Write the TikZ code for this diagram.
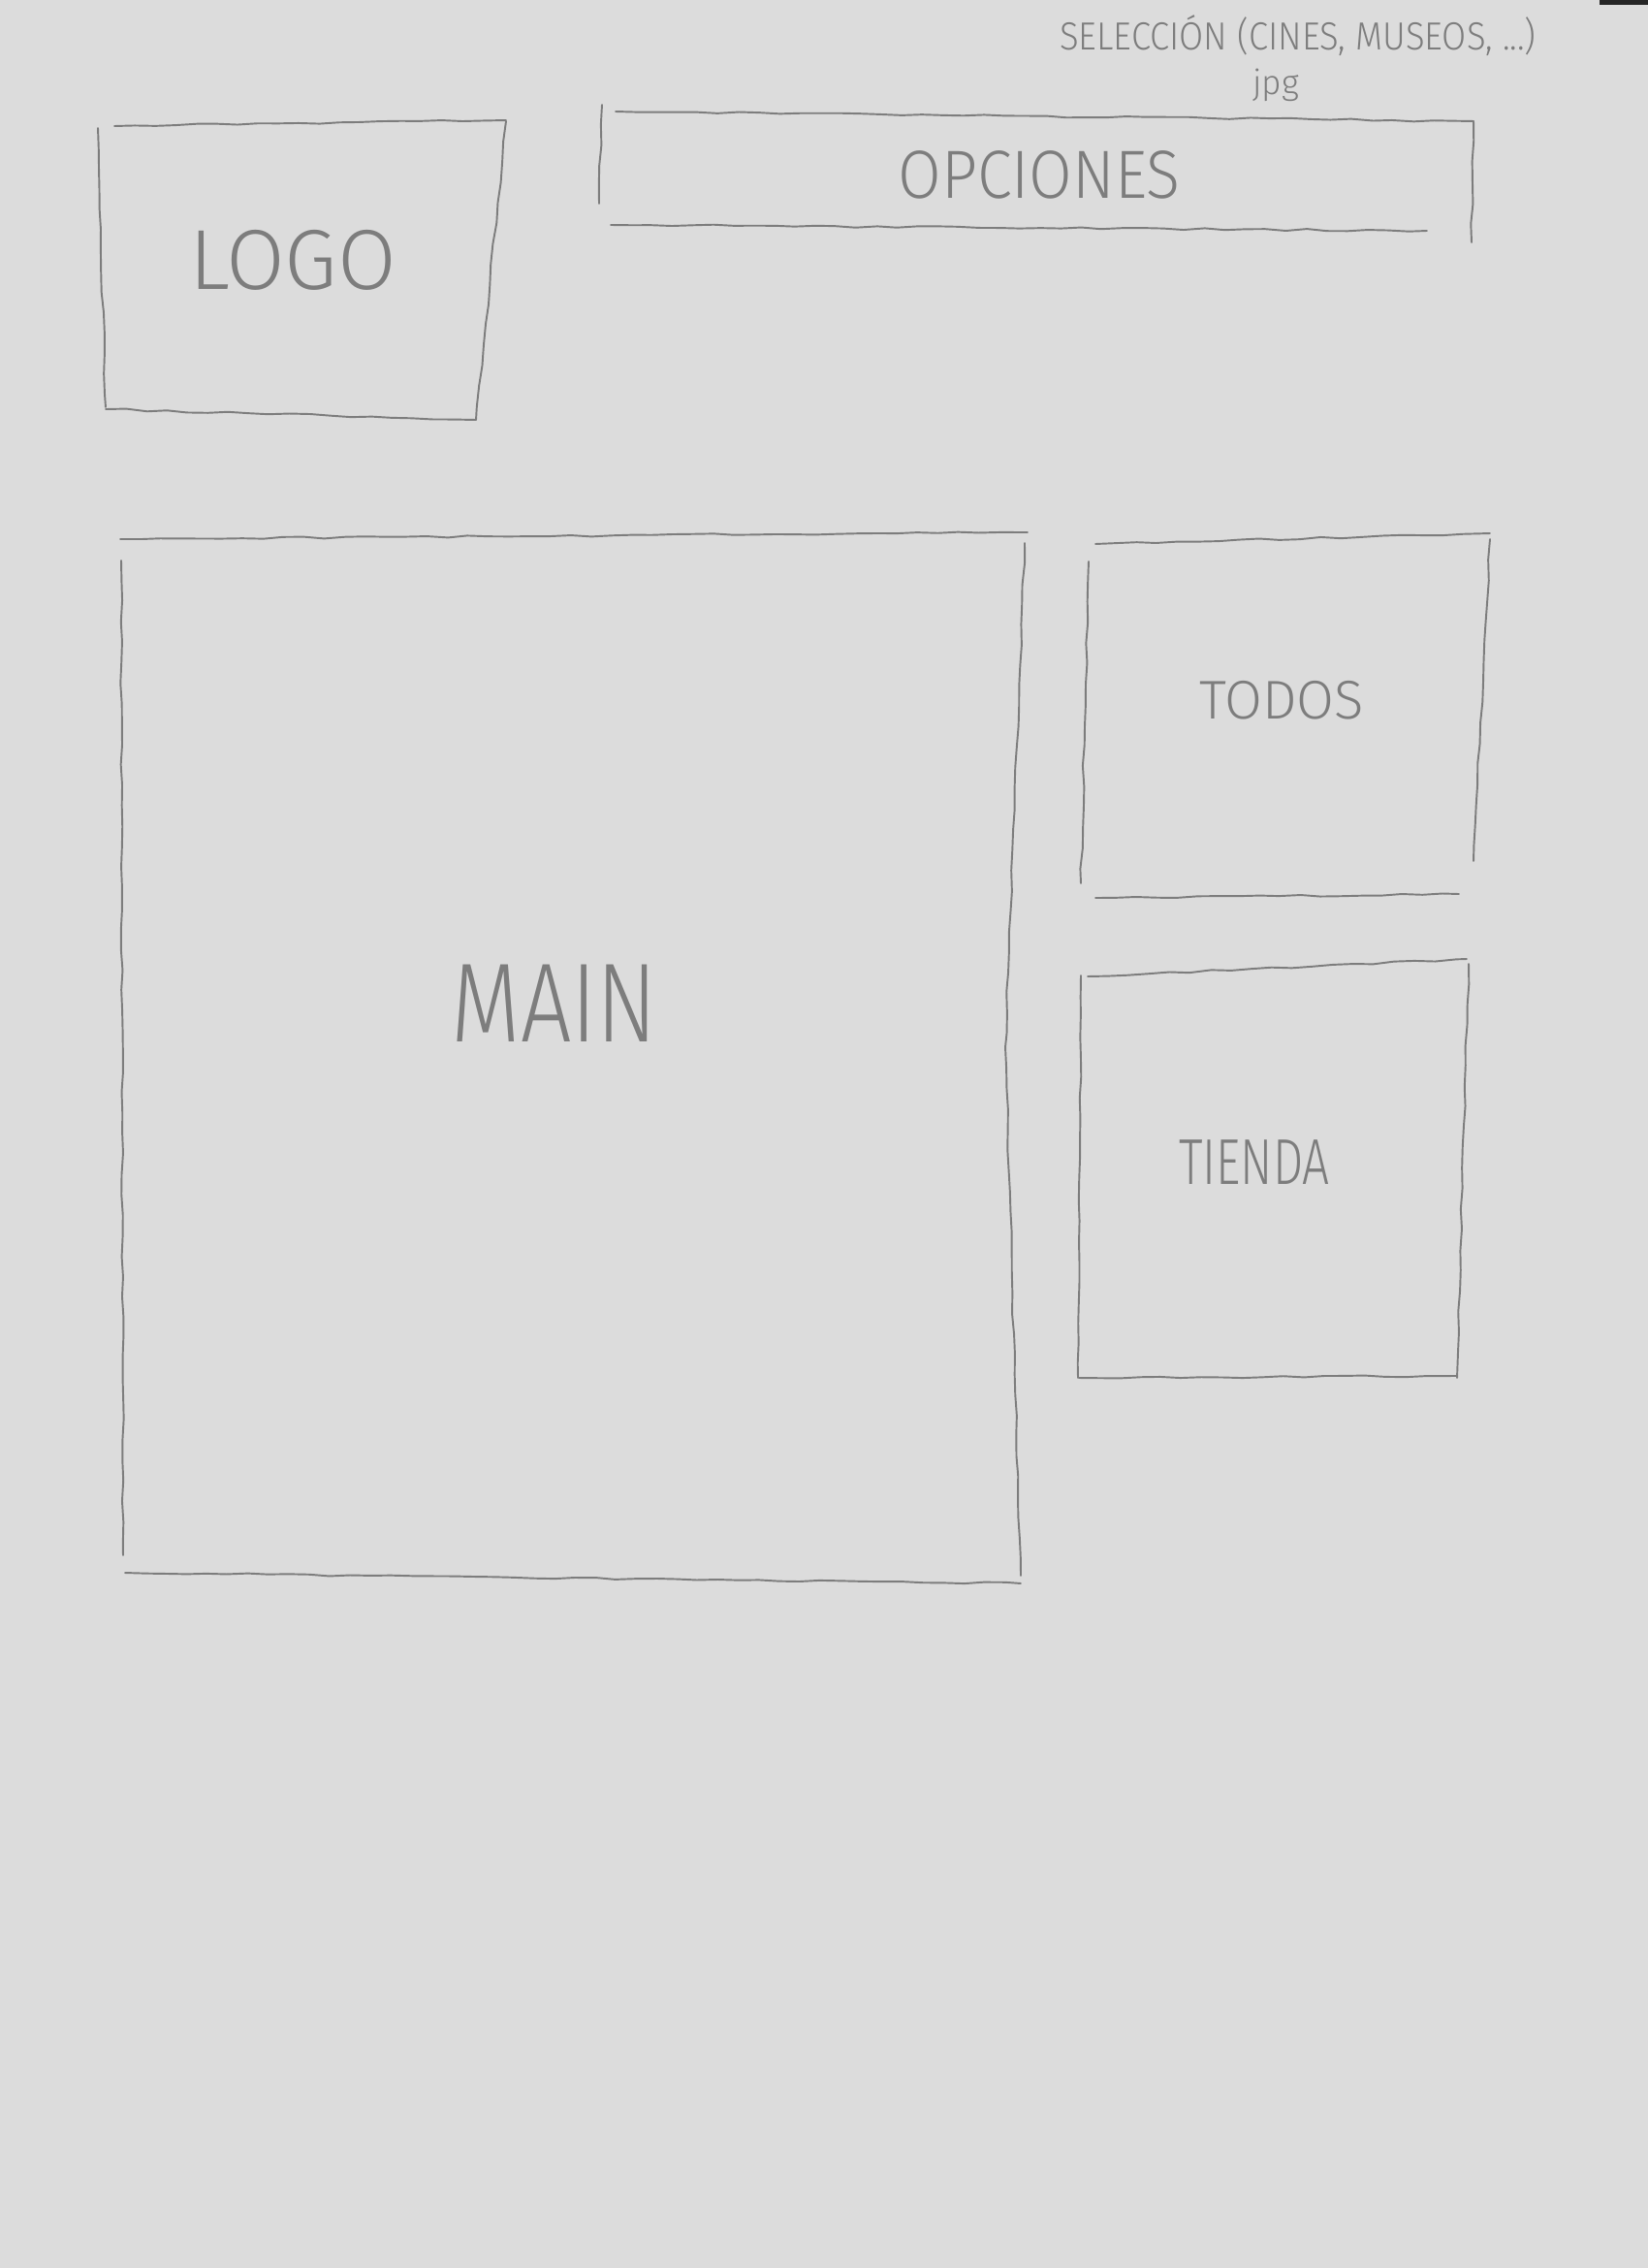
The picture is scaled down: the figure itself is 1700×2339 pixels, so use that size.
\documentclass[tikz,border=0pt]{standalone}
\usepackage{fontspec}
\setmainfont{Fira Sans Light}
\usetikzlibrary{decorations.pathmorphing}
\definecolor{paper}{RGB}{220,220,220}
\definecolor{pencil}{RGB}{125,125,125}
\definecolor{lead}{RGB}{125,125,125}
\begin{document}
\begin{tikzpicture}[x=0.01cm,y=-0.01cm,
  edge/.style={draw=pencil, line width=0.55pt, line cap=round, decorate,
    decoration={random steps, segment length=6pt, amplitude=0.3pt}},
  lbl/.style={text=lead, inner sep=0pt, anchor=center}]
\pgfmathsetseed{7}
\fill[paper] (0,0) rectangle (1700,2339);
\useasboundingbox (0,0) rectangle (1700,2339);
\fill[black!85] (1650,0) rectangle (1700,5);

% note at the top
\node[lbl] (sel) at (1339,37) {\fontsize{11.5}{13}\selectfont\scalebox{0.9}[1]{SELECCIÓN (CINES, MUSEOS, ...)}};
\node[lbl] (jpg) at (1316,88) {\fontsize{10}{12}\selectfont jpg};

% LOGO box
\draw[edge] (118,130) -- (522,124);
\draw[edge] (522,125) -- (491,433);
\draw[edge] (109,422) -- (491,433);
\draw[edge] (101,132) -- (109,420);
\node[lbl] (logo) at (302,268) {\fontsize{25}{30}\selectfont LOGO};

% OPCIONES box
\draw[edge] (621,108) -- (618,210);
\draw[edge] (635,115) -- (1520,125);
\draw[edge] (1520,125) -- (1518,250);
\draw[edge] (630,232) -- (1472,238);
\node[lbl] (opc) at (1072,180) {\fontsize{20}{24}\selectfont\scalebox{0.92}[1]{OPCIONES}};

% MAIN box
\draw[edge] (124,556) -- (1060,549);
\draw[edge] (125,578) -- (127,1604);
\draw[edge] (129,1622) -- (1053,1633);
\draw[edge] (1057,560) -- (1037,1080) -- (1053,1625);
\node[lbl] (main) at (572,1035) {\fontsize{33}{40}\selectfont\scalebox{0.8}[1]{MAIN}};

% TODOS box
\draw[edge] (1130,561) -- (1537,550);
\draw[edge] (1123,579) -- (1115,911);
\draw[edge] (1537,556) -- (1520,888);
\draw[edge] (1130,926) -- (1505,922);
\node[lbl] (todos) at (1322,722) {\fontsize{16}{19}\selectfont TODOS};

% TIENDA box
\draw[edge] (1122,1007) -- (1513,989);
\draw[edge] (1115,1006) -- (1112,1421);
\draw[edge] (1515,994) -- (1503,1421);
\draw[edge] (1113,1421) -- (1503,1419);
\node[lbl] (tienda) at (1294,1199) {\fontsize{19}{23}\selectfont\scalebox{0.74}[1]{TIENDA}};
\end{tikzpicture}
\end{document}
